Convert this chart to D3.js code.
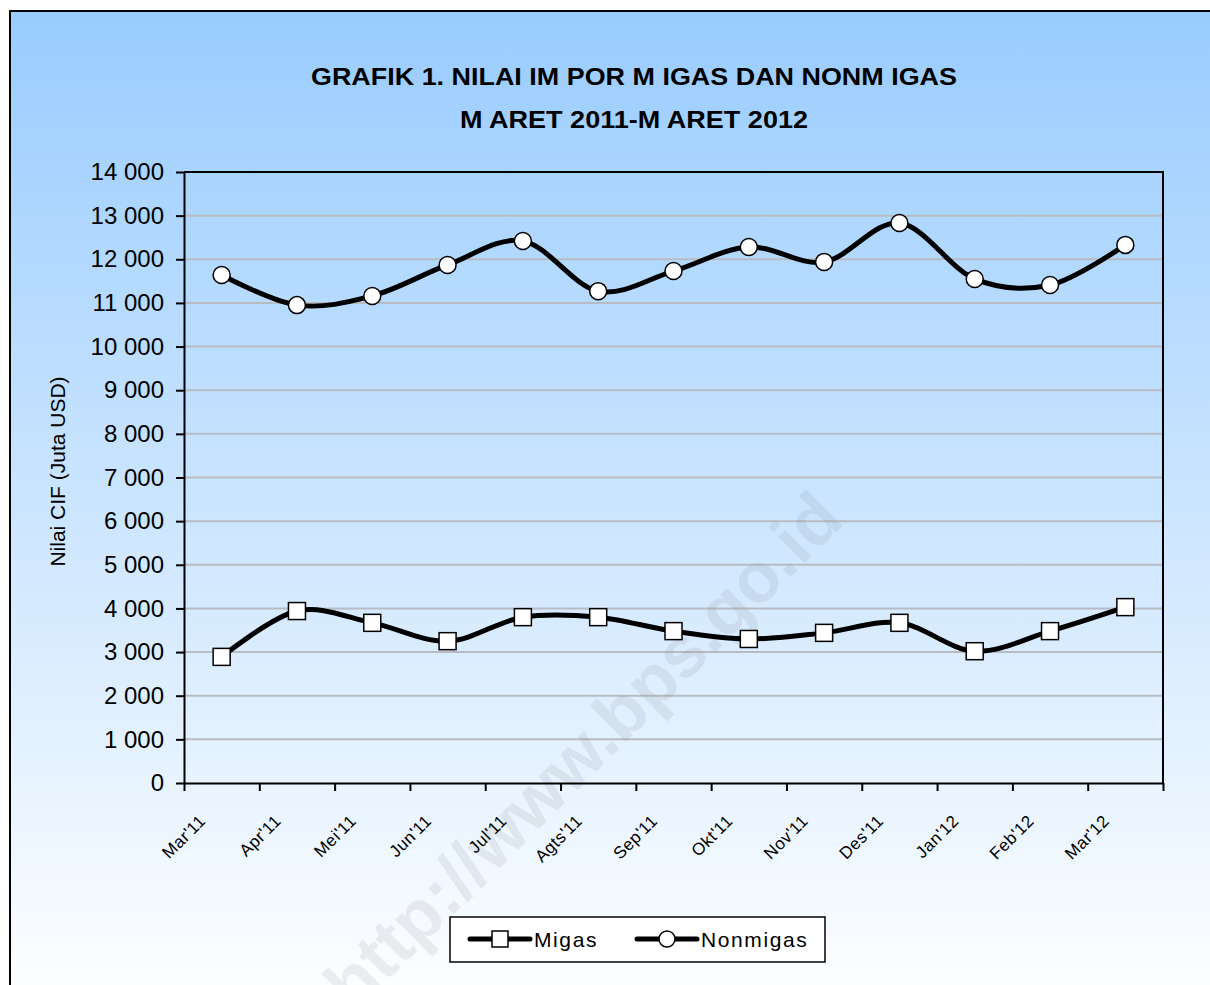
<!DOCTYPE html>
<html>
<head>
<meta charset="utf-8">
<script src="https://cdn.jsdelivr.net/npm/d3@7"></script>
<style>
  html, body { margin: 0; padding: 0; background: #fff; }
  svg { display: block; font-family: "Liberation Sans", Arial, sans-serif; }
</style>
</head>
<body>
<div id="chart"></div>
<script>
//-- data
const months = ["Mar'11", "Apr'11", "Mei'11", "Jun'11", "Jul'11", "Agts'11", "Sep'11",
  "Okt'11", "Nov'11", "Des'11", "Jan'12", "Feb'12", "Mar'12"];
const migas = [2890, 3940, 3670, 3250, 3800, 3800, 3480, 3300, 3440, 3670, 3020, 3480, 4030];
const nonmigas = [11640, 10950, 11160, 11870, 12420, 11270, 11730, 12280, 11940, 12830, 11550, 11410, 12330];
const yTicks = [0, 1000, 2000, 3000, 4000, 5000, 6000, 7000, 8000, 9000, 10000, 11000, 12000, 13000, 14000];
const titleLines = ["GRAFIK 1. NILAI IM POR M IGAS DAN NONM IGAS", "M ARET 2011-M ARET 2012"];

//-- dimensions
const width = 1210;
const height = 985;
const plot = { left: 184, right: 1163, top: 172, bottom: 783 };

const svg = d3.select("#chart").append("svg")
  .attr("width", width)
  .attr("height", height);

//-- background gradient
const defs = svg.append("defs");
const grad = defs.append("linearGradient")
  .attr("id", "bg")
  .attr("gradientUnits", "userSpaceOnUse")
  .attr("x1", 0).attr("y1", 11).attr("x2", 0).attr("y2", 1010);
grad.append("stop").attr("offset", 0).attr("stop-color", "#99ccff");
grad.append("stop").attr("offset", 1).attr("stop-color", "#ffffff");

svg.append("rect")
  .attr("x", 10).attr("y", 11)
  .attr("width", 1220).attr("height", 1000)
  .attr("fill", "url(#bg)")
  .attr("stroke", "#000")
  .attr("stroke-width", 2);

//-- title
svg.append("g").selectAll("text")
  .data(titleLines)
  .join("text")
  .attr("x", 634)
  .attr("y", (d, i) => 85 + i * 43)
  .attr("text-anchor", "middle")
  .attr("font-weight", "bold")
  .attr("font-size", 24)
  .attr("textLength", (d, i) => i === 0 ? 646 : 348)
  .attr("lengthAdjust", "spacingAndGlyphs")
  .text((d) => d);

//-- scales
const x = d3.scaleBand().domain(months).range([plot.left, plot.right]).padding(0);
const xEdge = d3.scaleLinear().domain([0, months.length]).range([plot.left, plot.right]);
const y = d3.scaleLinear().domain([0, 14000]).range([plot.bottom, plot.top]);
const cx = (d, i) => x(months[i]) + x.bandwidth() / 2;

const fmt = d3.formatLocale({ decimal: ",", thousands: " ", grouping: [3], currency: ["", ""] }).format(",d");

//-- gridlines
svg.append("g")
  .selectAll("line")
  .data(yTicks.filter((d) => d > 0 && d < 14000))
  .join("line")
  .attr("x1", plot.left).attr("x2", plot.right)
  .attr("y1", (d) => y(d)).attr("y2", (d) => y(d))
  .attr("stroke", "#b8bcc2")
  .attr("stroke-width", 2);

//-- plot frame (top/right)
svg.append("path")
  .attr("d", `M${plot.left},${plot.top}H${plot.right}V${plot.bottom}`)
  .attr("fill", "none")
  .attr("stroke", "#000")
  .attr("stroke-width", 2);

//-- watermark (runs off the bottom edge, as in the source image)
svg.append("text")
  .attr("transform", "translate(600,768) rotate(-45)")
  .attr("text-anchor", "middle")
  .attr("font-weight", "bold")
  .attr("font-size", 71)
  .attr("fill", "#7a7a7a")
  .attr("fill-opacity", 0.13)
  .text("http://www.bps.go.id");

//-- y axis
const yAxis = svg.append("g")
  .attr("transform", `translate(${plot.left},0)`)
  .call(d3.axisLeft(y).tickValues(yTicks).tickFormat(fmt).tickSize(8).tickSizeOuter(0).tickPadding(12));
yAxis.select(".domain").attr("stroke-width", 2);
yAxis.selectAll(".tick line").attr("stroke-width", 2);
yAxis.selectAll(".tick text")
  .attr("font-size", 24)
  .attr("font-family", "Liberation Sans, Arial, sans-serif")
  .attr("fill", "#000");

//-- x axis (ticks between categories)
const xAxis = svg.append("g")
  .attr("transform", `translate(0,${plot.bottom})`)
  .call(d3.axisBottom(xEdge).tickValues(d3.range(months.length + 1)).tickFormat("").tickSize(8).tickSizeOuter(0));
xAxis.select(".domain").attr("stroke-width", 2);
xAxis.selectAll(".tick line").attr("stroke-width", 2);

svg.append("g")
  .selectAll("text")
  .data(months)
  .join("text")
  .attr("transform", (d) => `translate(${x(d) + x.bandwidth() / 2 - 15},${plot.bottom + 39}) rotate(-45)`)
  .attr("text-anchor", "end")
  .attr("font-size", 17)
  .attr("letter-spacing", 0.5)
  .text((d) => d);

//-- y axis title
svg.append("text")
  .attr("transform", `translate(65,${(plot.top + plot.bottom) / 2 - 6}) rotate(-90)`)
  .attr("text-anchor", "middle")
  .attr("font-size", 21)
  .text("Nilai CIF (Juta USD)");

//-- lines
const line = d3.line()
  .x(cx)
  .y((d) => y(d))
  .curve(d3.curveCatmullRom.alpha(0));

[migas, nonmigas].forEach((series) => {
  svg.append("path")
    .datum(series)
    .attr("d", line)
    .attr("fill", "none")
    .attr("stroke", "#000")
    .attr("stroke-width", 5)
    .attr("stroke-linejoin", "round");
});

//-- markers
svg.append("g")
  .selectAll("rect")
  .data(migas)
  .join("rect")
  .attr("x", (d, i) => cx(d, i) - 8.5)
  .attr("y", (d) => y(d) - 8.5)
  .attr("width", 17).attr("height", 17)
  .attr("fill", "#fff")
  .attr("stroke", "#000")
  .attr("stroke-width", 1.5);

svg.append("g")
  .selectAll("circle")
  .data(nonmigas)
  .join("circle")
  .attr("cx", cx)
  .attr("cy", (d) => y(d))
  .attr("r", 8.5)
  .attr("fill", "#fff")
  .attr("stroke", "#000")
  .attr("stroke-width", 1.5);

//-- legend
const legend = svg.append("g");
legend.append("rect")
  .attr("x", 450).attr("y", 917)
  .attr("width", 375).attr("height", 45)
  .attr("fill", "#fff")
  .attr("stroke", "#000")
  .attr("stroke-width", 1.5);

const legendItems = [
  { name: "Migas", x: 470, shape: "square" },
  { name: "Nonmigas", x: 637, shape: "circle" }
];
legendItems.forEach((it) => {
  legend.append("line")
    .attr("x1", it.x).attr("x2", it.x + 60)
    .attr("y1", 939).attr("y2", 939)
    .attr("stroke", "#000").attr("stroke-width", 5).attr("stroke-linecap", "round");
  if (it.shape === "square") {
    legend.append("rect")
      .attr("x", it.x + 22).attr("y", 931)
      .attr("width", 16).attr("height", 16)
      .attr("fill", "#fff").attr("stroke", "#000").attr("stroke-width", 1.5);
  } else {
    legend.append("circle")
      .attr("cx", it.x + 30).attr("cy", 939).attr("r", 8)
      .attr("fill", "#fff").attr("stroke", "#000").attr("stroke-width", 1.5);
  }
  legend.append("text")
    .attr("x", it.x + 64).attr("y", 947)
    .attr("font-size", 21)
    .attr("letter-spacing", 1.6)
    .text(it.name);
});
</script>
</body>
</html>
